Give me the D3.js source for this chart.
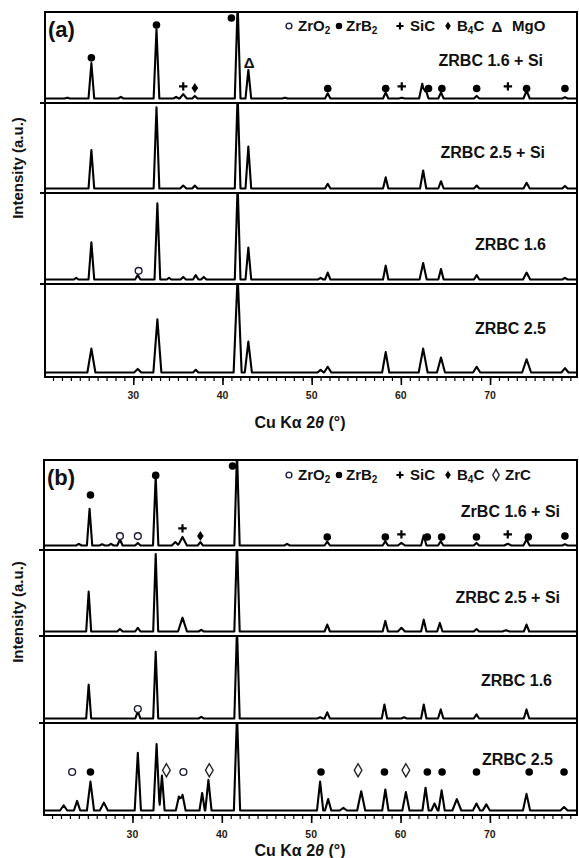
<!DOCTYPE html>
<html>
<head>
<meta charset="utf-8">
<script src="https://cdnjs.cloudflare.com/ajax/libs/d3/7.8.5/d3.min.js"></script>
<style>
	body { margin: 0; background: #fff; }
	svg text { font-family: Arial, "Liberation Sans", sans-serif; font-weight: bold; fill: #111; }
</style>
</head>
<body>
<div id="chart"></div>
<script>

// peaks: [2theta, height (1 = top of its row), half width at base]
var aZrbc16Si = [[22.6,.01,.3],[25.3,.41,.32],[28.6,.02,.3],[32.6,.8,.32],[34.8,.02,.3],[35.6,.05,.4],[36.9,.03,.3],
	[41.7,1.1,.32],[42.9,.33,.32],[47.0,.01,.3],[51.8,.06,.3],[58.3,.07,.3],[60.1,.01,.3],[62.4,.17,.35],
	[62.8,.1,.3],[64.5,.07,.3],[68.5,.03,.3],[74.1,.09,.35],[78.4,.015,.3]];
var aZrbc25Si = [[25.3,.45,.32],[32.6,.95,.32],[35.6,.035,.35],[36.9,.035,.3],[41.7,1.1,.32],[42.9,.49,.32],
	[51.8,.055,.3],[58.3,.13,.3],[62.5,.21,.35],[64.5,.085,.3],[68.5,.035,.3],[74.1,.066,.35],[78.4,.03,.3]];
var aZrbc16 = [[23.6,.02,.25],[25.3,.43,.32],[30.5,.05,.3],[32.7,.88,.32],[34.0,.02,.25],[35.6,.03,.3],[37.0,.05,.3],
	[37.9,.03,.3],[41.7,1.1,.32],[42.9,.37,.32],[51.0,.02,.3],[51.8,.08,.3],[58.3,.16,.3],[62.5,.19,.4],
	[64.5,.12,.3],[68.5,.05,.3],[74.1,.08,.4],[78.4,.02,.3]];
var aZrbc25 = [[25.3,.27,.45],[30.5,.04,.4],[32.7,.6,.45],[37.0,.03,.3],[41.7,1.1,.45],[42.9,.35,.4],[51.0,.03,.35],
	[51.8,.065,.4],[58.3,.23,.4],[62.5,.27,.5],[64.5,.17,.45],[68.5,.065,.4],[74.1,.15,.5],[78.4,.05,.4]];

var bZrbc16Si = [[24.0,.02,.3],[25.2,.43,.3],[26.6,.015,.3],[27.6,.02,.3],[28.6,.07,.3],[30.6,.03,.3],[32.6,.81,.3],
	[34.8,.04,.4],[35.6,.1,.5],[37.6,.04,.3],[41.7,1.1,.3],[47.3,.02,.3],[51.8,.045,.3],[58.3,.05,.3],
	[60.1,.03,.4],[62.6,.12,.3],[64.5,.05,.3],[68.5,.03,.3],[72.0,.02,.4],[74.1,.07,.35],[78.4,.015,.3]];
var bZrbc25Si = [[25.1,.49,.28],[28.6,.03,.3],[30.6,.045,.3],[32.6,.95,.28],[35.6,.17,.5],[37.7,.02,.3],
	[41.7,1.1,.3],[51.8,.085,.3],[58.3,.13,.3],[60.1,.045,.4],[62.6,.145,.3],[64.4,.105,.3],[68.5,.03,.3],
	[71.8,.015,.4],[74.1,.085,.3]];
var bZrbc16 = [[25.1,.41,.28],[30.6,.09,.28],[32.6,.81,.28],[37.7,.02,.3],[41.7,1.1,.3],[51.0,.015,.3],
	[51.8,.075,.3],[58.2,.17,.3],[60.4,.015,.3],[62.6,.17,.3],[64.5,.11,.3],[68.5,.05,.3],[74.1,.11,.3]];
var bZrbc25 = [[22.3,.06,.4],[23.8,.11,.35],[25.3,.33,.4],[26.8,.09,.45],[30.6,.66,.35],[32.7,.76,.35],
	[33.3,.4,.3],[35.2,.16,.35],[35.6,.18,.35],[37.8,.2,.3],[38.5,.35,.35],[41.7,1.1,.35],[51.0,.33,.35],
	[51.9,.13,.35],[53.6,.03,.4],[55.6,.22,.45],[58.3,.24,.35],[60.6,.21,.4],[62.8,.26,.35],[63.8,.08,.35],
	[64.6,.23,.35],[66.3,.13,.5],[68.5,.08,.4],[69.6,.07,.4],[74.1,.19,.4],[78.3,.04,.4]];

// phase markers: [2theta, height, symbol]
var aMarks16Si = [[25.3,.47,"dot"],[32.6,.85,"dot"],[35.6,.14,"plus"],[36.9,.12,"diamond"],[41.0,.93,"dot"],
	[43.0,.42,"delta"],[51.8,.115,"dot"],[58.3,.115,"dot"],[60.1,.14,"plus"],[63.1,.115,"dot"],[64.6,.115,"dot"],
	[68.5,.115,"dot"],[72.0,.14,"plus"],[74.1,.115,"dot"],[78.4,.115,"dot"]];
var aMarks16 = [[30.6,.1,"circle"]];
var bMarks16Si = [[25.3,.59,"dot"],[28.6,.11,"circle"],[30.6,.11,"circle"],[32.6,.82,"dot"],[35.6,.2,"plus"],
	[37.6,.11,"diamond"],[41.2,.93,"dot"],[51.8,.1,"dot"],[58.3,.1,"dot"],[60.1,.13,"plus"],[63.0,.1,"dot"],
	[64.6,.1,"dot"],[68.5,.1,"dot"],[72.0,.13,"plus"],[74.3,.1,"dot"],[78.4,.11,"dot"]];
var bMarks16 = [[30.6,.115,"circle"]];
var bMarks25 = [[23.25,.44,"circle"],[25.3,.44,"dot"],[33.8,.46,"odiamond"],[35.7,.44,"circle"],[38.6,.46,"odiamond"],
	[51.1,.44,"dot"],[55.25,.46,"odiamond"],[58.2,.44,"dot"],[60.6,.46,"odiamond"],[63.0,.44,"dot"],
	[64.65,.44,"dot"],[68.5,.44,"dot"],[74.4,.44,"dot"],[78.3,.44,"dot"]];

var legendA = [["circle","ZrO_2"],["dot","ZrB_2"],["plus","SiC"],["diamond","B_4C"],["delta","MgO"]];
var legendB = [["circle","ZrO_2"],["dot","ZrB_2"],["plus","SiC"],["diamond","B_4C"],["odiamond","ZrC"]];

var tickLabels = [30, 40, 50, 60, 70];

// layout of the two panels
var panels = [
	{ tag: "(a)", left: 45, right: 577, top: 12, bottom: 377, seps: [103, 193, 284], ylabelY: 168,
		tickY: 399, titleY: 428, legend: legendA, legendY: 31,
		legendX: [[289,298],[339,346],[400,410],[448,457],[497,512]],
		rows: [
			{ peaks: aZrbc16Si, marks: aMarks16Si, label: "ZRBC 1.6 + Si", lx: 543, ly: 66 },
			{ peaks: aZrbc25Si, marks: [], label: "ZRBC 2.5 + Si", lx: 545, ly: 158 },
			{ peaks: aZrbc16, marks: aMarks16, label: "ZRBC 1.6", lx: 546, ly: 250 },
			{ peaks: aZrbc25, marks: [], label: "ZRBC 2.5", lx: 546, ly: 334 }
		] },
	{ tag: "(b)", left: 44, right: 577, top: 460, bottom: 815, seps: [550, 636, 723], ylabelY: 612,
		tickY: 838, titleY: 856, legend: legendB, legendY: 480,
		legendX: [[289,298],[339,346],[400,410],[448,457],[496,505]],
		rows: [
			{ peaks: bZrbc16Si, marks: bMarks16Si, label: "ZrBC 1.6 + Si", lx: 560, ly: 517 },
			{ peaks: bZrbc25Si, marks: [], label: "ZRBC 2.5 + Si", lx: 560, ly: 603 },
			{ peaks: bZrbc16, marks: bMarks16, label: "ZRBC 1.6", lx: 552, ly: 686 },
			{ peaks: bZrbc25, marks: bMarks25, label: "ZRBC 2.5", lx: 553, ly: 765 }
		] }
];

var svg = d3.select("#chart").append("svg")
	.attr("width", 579)
	.attr("height", 858);

// envelope of triangular peaks, evaluated at every peak vertex
function profile(peaks) {
	var xs = [20, 80];
	peaks.forEach(function(p) { xs.push(p[0] - p[2], p[0], p[0] + p[2]); });
	xs.sort(d3.ascending);
	return xs.map(function(x) {
		var y = 0;
		peaks.forEach(function(p) {
			var d = Math.abs(x - p[0]);
			if (d < p[2]) y = Math.max(y, p[1] * (1 - d / p[2]));
		});
		return [x, y];
	});
}

function drawMark(g, type, cx, cy, small) {
	var k = small ? 0.85 : 1;
	if (type == "dot") {
		g.append("circle").attr("cx", cx).attr("cy", cy).attr("r", 3.8 * k).attr("fill", "#000");
	} else if (type == "circle") {
		g.append("circle").attr("cx", cx).attr("cy", cy).attr("r", 3.4 * k)
			.attr("fill", "#fff").attr("stroke", "#1b1b3a").attr("stroke-width", 1.4);
	} else if (type == "plus") {
		var s = 4.2 * k;
		g.append("path").attr("d", "M" + (cx - s) + "," + cy + "H" + (cx + s) + "M" + cx + "," + (cy - s) + "V" + (cy + s))
			.attr("stroke", "#000").attr("stroke-width", 2.2);
	} else if (type == "diamond") {
		g.append("path").attr("d", "M" + cx + "," + (cy - 5 * k) + "L" + (cx + 3.3 * k) + "," + cy + "L" + cx + "," + (cy + 5 * k) + "L" + (cx - 3.3 * k) + "," + cy + "Z")
			.attr("fill", "#000");
	} else if (type == "odiamond") {
		g.append("path").attr("d", "M" + cx + "," + (cy - 6.5 * k) + "L" + (cx + 3.8 * k) + "," + cy + "L" + cx + "," + (cy + 6.5 * k) + "L" + (cx - 3.8 * k) + "," + cy + "Z")
			.attr("fill", "#fff").attr("stroke", "#222").attr("stroke-width", 1.4);
	} else if (type == "delta") {
		g.append("text").attr("x", cx).attr("y", cy + 5.5).attr("text-anchor", "middle")
			.style("font-size", "15px").text("\u0394");
	}
}

// text with "_n" meaning subscript n
function richText(t, str) {
	str.split(/_(\d)/).forEach(function(part, i) {
		if (!part) return;
		var ts = t.append("tspan").text(part);
		if (i % 2 == 1) ts.style("font-size", "10px").attr("dy", 3);
		else if (i > 0) ts.attr("dy", -3);
	});
}

panels.forEach(function(pn, pi) {

	var x = d3.scaleLinear()
		.domain([20.1, 79.75])
		.range([pn.left, pn.right]);

	var bounds = [pn.top].concat(pn.seps).concat([pn.bottom]);
	var g = svg.append("g");

	pn.rows.forEach(function(row, ri) {
		var rt = bounds[ri], rb = bounds[ri + 1];
		var y = d3.scaleLinear().domain([0, 1]).range([rb - 4.5, rt]);

		var clipId = "clip" + pi + "_" + ri;
		svg.append("clipPath").attr("id", clipId)
			.append("rect").attr("x", pn.left).attr("y", rt).attr("width", pn.right - pn.left).attr("height", rb - rt);

		var line = d3.line()
			.x(function(d) { return x(d[0]); })
			.y(function(d) { return y(d[1]); });

		g.append("path")
			.datum(profile(row.peaks))
			.attr("clip-path", "url(#" + clipId + ")")
			.attr("d", line)
			.attr("fill", "none")
			.attr("stroke", "#000")
			.attr("stroke-width", 2.1)
			.attr("stroke-linejoin", "round");

		row.marks.forEach(function(m) {
			drawMark(g, m[2], x(m[0]), y(m[1]));
		});

		g.append("text")
			.attr("x", row.lx)
			.attr("y", row.ly)
			.attr("text-anchor", "end")
			.style("font-size", "16px")
			.text(row.label);
	});

	// frame and row separators
	g.append("rect")
		.attr("x", pn.left).attr("y", pn.top)
		.attr("width", pn.right - pn.left).attr("height", pn.bottom - pn.top)
		.attr("fill", "none").attr("stroke", "#000").attr("stroke-width", 2);
	pn.seps.forEach(function(s) {
		g.append("line").attr("x1", pn.left - 5).attr("x2", pn.right).attr("y1", s).attr("y2", s)
			.attr("stroke", "#000").attr("stroke-width", 2);
	});

	// bottom axis, minor tick every degree
	var axis = d3.axisBottom(x)
		.tickValues(d3.range(21, 80))
		.tickSize(4)
		.tickFormat("");
	g.append("g").attr("transform", "translate(0," + pn.bottom + ")").call(axis)
		.call(function(a) { a.select(".domain").remove(); a.selectAll("line").attr("stroke-width", 1.2); });
	g.append("g").attr("transform", "translate(0," + pn.bottom + ")")
		.call(d3.axisBottom(x).tickValues(tickLabels).tickSize(8).tickFormat(""))
		.call(function(a) { a.select(".domain").remove(); a.selectAll("line").attr("stroke-width", 1.6); });
	tickLabels.forEach(function(t) {
		g.append("text").attr("x", x(t)).attr("y", pn.tickY).attr("text-anchor", "middle")
			.style("font-size", "10.5px").style("fill", "#2a1a10").text(t);
	});

	// axis title
	var title = g.append("text").attr("x", 300).attr("y", pn.titleY).attr("text-anchor", "middle")
		.style("font-size", "16px");
	title.append("tspan").text("Cu K\u03b1 ");
	title.append("tspan").text("2");
	title.append("tspan").style("font-style", "italic").text("\u03b8");
	title.append("tspan").text(" (\u00b0)");

	g.append("text")
		.attr("transform", "translate(23," + pn.ylabelY + ") rotate(-90)")
		.attr("text-anchor", "middle")
		.style("font-size", "15px")
		.text("Intensity (a.u.)");

	// panel tag and legend
	g.append("text").attr("x", pn.left + 3).attr("y", pn.top + 25)
		.style("font-size", "22px").text(pn.tag);

	pn.legend.forEach(function(item, i) {
		var pos = pn.legendX[i];
		drawMark(g, item[0], pos[0], pn.legendY - 5, true);
		var t = g.append("text").attr("x", pos[1]).attr("y", pn.legendY).style("font-size", "15px");
		richText(t, item[1]);
	});
});

</script>
</body>
</html>
